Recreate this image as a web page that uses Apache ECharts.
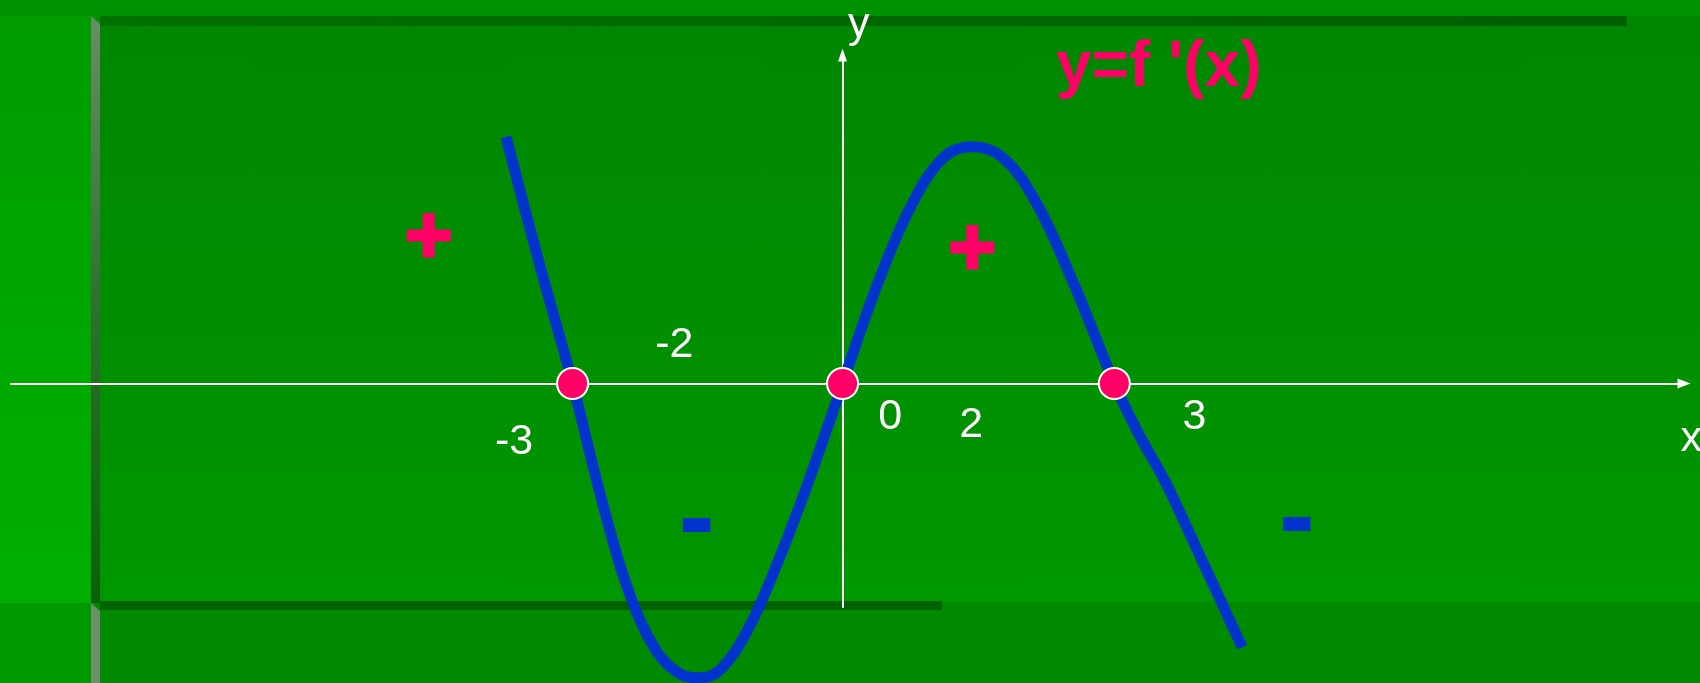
<!DOCTYPE html>
<html>
<head>
<meta charset="utf-8">
<title>y=f '(x)</title>
<script src="https://cdn.jsdelivr.net/npm/echarts@6/dist/echarts.min.js"></script>
<style>
  html, body { margin: 0; padding: 0; background: #009300; }
  #wrap { position: relative; width: 1700px; height: 683px; overflow: hidden; background: #009300; }
  #wrap div.bg { position: absolute; }
  #left   { left: 0; top: 16px; width: 91px; height: 587px; background: linear-gradient(#009c00, #00b000); }
  #panel  { left: 100px; top: 16px; width: 1600px; height: 586px; background: linear-gradient(#008600, #009700); }
  #topband { left: 100px; top: 16px; width: 1527px; height: 10px; background: linear-gradient(90deg, #007000, #005f00); }
  #bar    { left: 91px; top: 16px; width: 9px; height: 587px; background: linear-gradient(#6a8c6a, #2f6f2f 50%, #0a600a);
            clip-path: polygon(0 0, 100% 8px, 100% 100%, 0 100%); }
  #bottom { left: 0; top: 602px; width: 1700px; height: 81px; background: #008a00; }
  #bottomleft { left: 0; top: 603px; width: 91px; height: 80px; background: #009a00; }
  #bottombar { left: 91px; top: 603px; width: 9px; height: 80px; background: #6b8e6b;
               clip-path: polygon(0 0, 100% 8px, 100% 100%, 0 100%); }
  #bottomband { left: 100px; top: 601px; width: 842px; height: 9px; background: #006200; }
  #chart { position: absolute; left: 0; top: 0; width: 1700px; height: 683px; }
</style>
</head>
<body>
<div id="wrap">
  <div class="bg" id="bottom"></div>
  <div class="bg" id="bottomleft"></div>
  <div class="bg" id="left"></div>
  <div class="bg" id="panel"></div>
  <div class="bg" id="topband"></div>
  <div class="bg" id="bar"></div>
  <div class="bg" id="bottombar"></div>
  <div class="bg" id="bottomband"></div>
  <div id="chart"></div>
</div>
<script>
// 曲线 y = f'(x) 的取样点
var curveX = [-3.74, -3.38, -3.0, -2.68, -2.38, -2.07, -1.80, -1.59, -1.35, -1.05, -0.75, -0.39, 0,
              0.39, 0.76, 1.12, 1.44, 1.78, 2.14, 2.56, 3.02, 3.29, 3.59, 4.01, 4.44];
var curveY = [2.74, 1.37, 0, -1.28, -2.30, -2.97, -3.23, -3.27, -3.17, -2.73, -2.06, -1.12, 0,
              1.11, 1.97, 2.51, 2.63, 2.51, 2.03, 1.13, 0, -0.56, -1.10, -2.00, -2.93];

// 零点
var zeroX = [-3, 0, 3.02];

// 数轴上的数字
var tickText = ['-3', '-2', '0', '2', '3'];
var tickX = [-3.65, -1.87, 0.53, 1.43, 3.91];
var tickY = [-0.65, 0.43, -0.37, -0.46, -0.37];

// 坐标轴名称
var axisNameText = ['x', 'y'];
var axisNameX = [9.43, 0.18];
var axisNameY = [-0.62, 3.98];

// 符号 + / -
var plusX = [-4.60, 1.44];
var plusY = [1.60, 1.47];
var minusX = [-1.62, 5.05];
var minusY = [-1.57, -1.55];

var FONT = '"Liberation Sans", Arial, sans-serif';

function pairs(xs, ys) {
    return xs.map(function (x, i) { return [x, ys[i]]; });
}
function named(texts, xs, ys) {
    return texts.map(function (t, i) { return { name: t, value: [xs[i], ys[i]] }; });
}

var myChart = echarts.init(document.getElementById('chart'));
myChart.setOption({
    animation: false,
    backgroundColor: 'transparent',
    title: {
        text: "y=f '(x)",
        left: 1056,
        top: 36,
        padding: 0,
        textStyle: { color: '#ff0066', fontSize: 64, fontWeight: 'bold', fontFamily: FONT }
    },
    grid: { left: 11, right: 16, top: 55, bottom: 76, containLabel: false },
    xAxis: {
        type: 'value',
        min: -9.24, max: 9.35,
        axisLine: { onZero: true, symbol: ['none', 'triangle'], symbolSize: [10, 13],
                    lineStyle: { color: '#ffffff', width: 2 } },
        axisTick: { show: false },
        axisLabel: { show: false },
        splitLine: { show: false }
    },
    yAxis: {
        type: 'value',
        min: -2.4833, max: 3.65,
        axisLine: { show: true, onZero: true, symbol: ['none', 'triangle'], symbolSize: [9, 13],
                    lineStyle: { color: '#ffffff', width: 2 } },
        axisTick: { show: false },
        axisLabel: { show: false },
        splitLine: { show: false }
    },
    series: [
        {
            name: "f'(x)",
            type: 'line',
            data: pairs(curveX, curveY),
            smooth: 0.38,
            showSymbol: false,
            clip: false,
            z: 3,
            lineStyle: { color: '#0033cc', width: 11, cap: 'butt', join: 'round' }
        },
        {
            name: 'zeros',
            type: 'scatter',
            data: zeroX.map(function (x) { return [x, 0]; }),
            symbolSize: 31,
            z: 4,
            itemStyle: { color: '#ff0066', borderColor: '#ffffff', borderWidth: 2, opacity: 1 }
        },
        {
            name: 'ticks',
            type: 'scatter',
            data: named(tickText, tickX, tickY).concat(named(axisNameText, axisNameX, axisNameY)),
            symbolSize: 0,
            clip: false,
            z: 5,
            itemStyle: { opacity: 1 },
            label: {
                show: true, position: 'inside', formatter: '{b}',
                color: '#ffffff', fontFamily: FONT, fontSize: 43,
                textBorderWidth: 0
            }
        },
        {
            name: 'plus',
            type: 'scatter',
            data: named(['+', '+'], plusX, plusY),
            symbolSize: 0,
            clip: false,
            z: 5,
            itemStyle: { opacity: 1 },
            label: {
                show: true, position: 'inside', formatter: '{b}',
                color: '#ff0066', fontFamily: FONT, fontWeight: 'bold', fontSize: 82,
                textBorderColor: '#ff0066', textBorderWidth: 3
            }
        },
        {
            name: 'minus',
            type: 'scatter',
            data: named(['-', '-'], minusX, minusY),
            symbolSize: 0,
            clip: false,
            z: 5,
            itemStyle: { opacity: 1 },
            label: {
                show: true, position: 'inside', formatter: '{b}', offset: [0, -1],
                color: '#0033cc', fontFamily: FONT, fontWeight: 'bold', fontSize: 100,
                textBorderColor: '#0033cc', textBorderWidth: 2
            }
        }
    ]
});
</script>
</body>
</html>
